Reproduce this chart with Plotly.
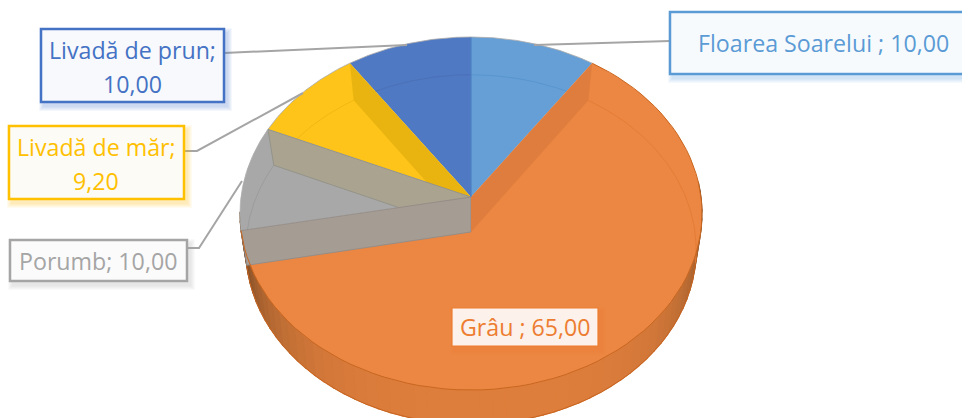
import math
import plotly.graph_objects as go

categories = ["Floarea Soarelui ", "Grâu ", "Porumb", "Livadă de măr", "Livadă de prun"]
values = [10.00, 65.00, 10.00, 9.20, 10.00]
face_colors = ["#659FD6", "#EB8742", "#A8A8A8", "#FEC419", "#5079C3"]
arc_colors = ["#5A95CF", "#E47C37", "#9C9C9C", "#F2B815", "#4A70B8"]
text_colors = ["#5B9BD5", "#ED7D31", "#A5A5A5", "#FFC000", "#4472C4"]
box_fills = ["#F7FAFD", "#FCF1EB", "#FBFBFB", "#FDFBF5", "#F7F9FC"]

W, H = 962, 418
CX = 471
TOP = dict(cy=197, a=175, b=230, k=0.0935)
BOT = dict(cy=232, a=173, b=224, k=0.10)


def pt(deg, d):
    t = math.radians(deg)
    u, v = math.sin(t), -math.cos(t)
    s = 1 - d["k"] * v
    return CX + d["b"] * u / s, d["cy"] + d["a"] * v / s


def arc(a0, a1, d, n=80):
    p = [pt(a0 + (a1 - a0) * i / n, d) for i in range(n + 1)]
    return [q[0] for q in p], [q[1] for q in p]


total = sum(values)
edges = [0.0]
for val in values:
    edges.append(edges[-1] + val / total * 360)

fig = go.Figure()


def poly(xs, ys, fill, line=None, lw=0.8):
    fig.add_trace(go.Scatter(
        x=list(xs) + [xs[0]], y=list(ys) + [ys[0]], mode="lines", fill="toself",
        fillcolor=fill, line=dict(color=line or fill, width=lw if line else 0),
        hoverinfo="skip", showlegend=False))


def stroke(xs, ys, color, lw=1.0):
    fig.add_trace(go.Scatter(x=list(xs), y=list(ys), mode="lines",
                             line=dict(color=color, width=lw),
                             hoverinfo="skip", showlegend=False))


def wedge(i):
    xs, ys = arc(edges[i], edges[i + 1], TOP)
    poly([CX] + xs, [TOP["cy"]] + ys, face_colors[i])


def wall(deg, fill, line=None):
    tx, ty = pt(deg, TOP)
    bx, by = pt(deg, BOT)
    poly([CX, tx, bx, CX], [TOP["cy"], ty, by, BOT["cy"]], fill, line)


def lerp(c0, c1, t):
    return "#%02X%02X%02X" % tuple(round(c0[j] + (c1[j] - c0[j]) * t) for j in range(3))


# outer rim, shaded from the middle out to both ends
for s in range(60):
    a0 = 85 + s * 3.0
    a1 = a0 + 3.2
    off = abs((a0 + 1.5) - 175) / 90
    shade = max(0.0, min(1.0, off)) ** 3
    col = lerp((222, 126, 60), (96, 60, 30), shade)
    x0, y0 = arc(a0, a1, TOP, 4)
    x1, y1 = arc(a1, a0, BOT, 4)
    poly(x0 + x1, y0 + y1, col, col, 1.2)
xb, yb = arc(88, 265, BOT)
stroke(xb, yb, "#C8641F", 1)

# faces and the seam lines, back to front
wedge(0)
stroke(*arc(edges[0], edges[1] - 6, BOT), arc_colors[0], 1)
wedge(4)
stroke(*arc(edges[4] + 6, edges[5], BOT), arc_colors[4], 1)
wedge(3)
stroke(*arc(edges[3], edges[4], BOT), arc_colors[3], 1)
wall(edges[4], "#EAB410")
wedge(2)
stroke(*arc(edges[2], edges[3], BOT), arc_colors[2], 1)
wall(edges[3], "#A9A38F", "#8F8F86")
wedge(1)
stroke(*arc(edges[1], 100, BOT), arc_colors[1], 1)
wall(edges[2], "#A59C94", "#8C8C8C")
wall(edges[1], "#DE7D3D")
stroke([CX, CX], [pt(0, TOP)[1], TOP["cy"]], "#4E80C4", 1.2)

xr, yr = arc(edges[1], edges[2], TOP)
stroke(xr, yr, "#C9661F", 1)
for i in (0, 2, 3, 4):
    xr, yr = arc(edges[i], edges[i + 1], TOP)
    stroke(xr, yr, "#ABABAB", 0.8)

# leader lines
stroke([670, 534], [41, 45], "#A5A5A5", 2)
stroke([224, 407], [53, 45], "#A5A5A5", 2)
stroke([184, 197, 303], [151, 151, 93], "#A5A5A5", 2)
stroke([187, 199, 242], [248, 248, 181], "#A5A5A5", 2)

boxes = {
    0: (670, 12, 975, 74, 2.5),
    1: (452, 308, 598, 346, 1.2),
    2: (10, 240, 187, 281, 2.5),
    3: (9, 126, 184, 199, 2.5),
    4: (41, 29, 224, 102, 2.5),
}
text_x = {0: 823, 1: 525, 2: 98, 3: 96, 4: 132}
shapes, notes = [], []
for i, (x0, y0, x1, y1, lw) in boxes.items():
    for g in range(5, 0, -1):
        shapes.append(dict(type="rect", xref="x", yref="y", layer="above",
                           x0=x0 + 3 - g, x1=x1 + 3 + g, y0=y0 + 4 - g, y1=y1 + 4 + g,
                           line_width=0, fillcolor=text_colors[i], opacity=0.06))
    shapes.append(dict(type="rect", xref="x", yref="y", layer="above",
                       x0=x0, x1=x1, y0=y0, y1=y1, fillcolor=box_fills[i],
                       line=dict(color=text_colors[i], width=lw)))
    num = f"{values[i]:.2f}".replace(".", ",")
    cy = (y0 + y1) / 2
    if i in (3, 4):
        lines = [(f"{categories[i]};", cy - 16), (num, cy + 18)]
    else:
        lines = [(f"{categories[i]}; {num}", cy)]
    for label, ly in lines:
        notes.append(dict(x=text_x[i], y=ly, xref="x", yref="y", text=label,
                          showarrow=False, align="center", xanchor="center", yanchor="middle",
                          font=dict(family="Open Sans", size=23.2, color=text_colors[i])))

fig.update_layout(
    width=W, height=H, margin=dict(l=0, r=0, t=0, b=0),
    paper_bgcolor="white", plot_bgcolor="white", showlegend=False,
    xaxis=dict(range=[0, W], visible=False, fixedrange=True),
    yaxis=dict(range=[H, 0], visible=False, fixedrange=True),
    shapes=shapes, annotations=notes)
fig.write_html("out.html", config=dict(displayModeBar=False),
               post_script="document.body.style.margin='0';document.documentElement.style.overflow='hidden';")
